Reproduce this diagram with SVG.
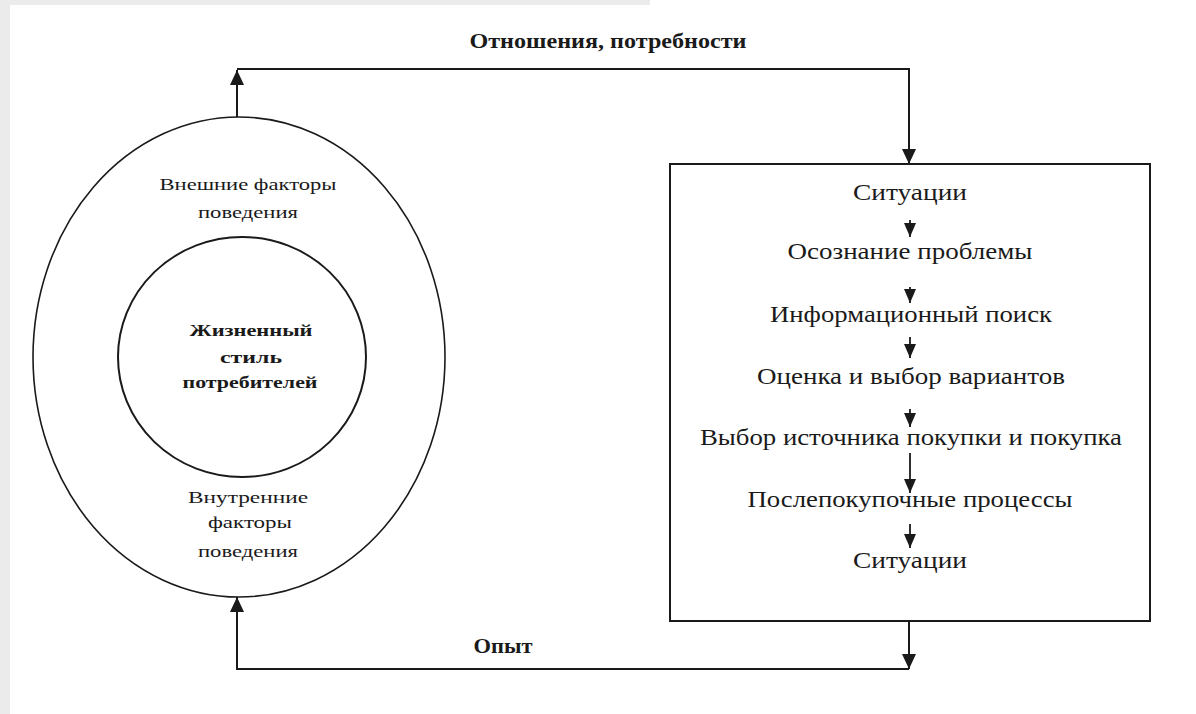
<svg xmlns="http://www.w3.org/2000/svg" width="1196" height="714" viewBox="0 0 1196 714">
<style>
  .t { font-family: "Liberation Serif", "Times New Roman", serif; fill: #1a1a1a; text-anchor: middle; }
  .box { font-size: 23px; }
  .sm { font-size: 17px; }
  .b { font-weight: bold; }
  .lbl { font-size: 20px; }
  .conn { fill: none; stroke: #1a1a1a; stroke-width: 2; }
  .small { fill: none; stroke: #1a1a1a; stroke-width: 1.8; }
  .shape { fill: none; stroke: #1a1a1a; }
</style>
<defs>
  <marker id="ah" markerUnits="userSpaceOnUse" markerWidth="16" markerHeight="16" viewBox="0 0 16 16" refX="15" refY="8" orient="auto">
    <path d="M0,1 L15,8 L0,15 Z" fill="#1a1a1a"/>
  </marker>
  <marker id="as" markerUnits="userSpaceOnUse" markerWidth="15" markerHeight="15" viewBox="0 0 15 15" refX="14" refY="7.5" orient="auto">
    <path d="M0,1.5 L14,7.5 L0,13.5 Z" fill="#1a1a1a"/>
  </marker>
</defs>
<rect x="0" y="0" width="1196" height="714" fill="#ffffff"/>
<rect x="0" y="0" width="10" height="714" fill="#ebebeb"/>
<rect x="0" y="0" width="650" height="5" fill="#ebebeb"/>

<g id="outer-ellipse">
  <ellipse class="shape" cx="239" cy="357" rx="206" ry="240" stroke-width="1.6"/>
  <text class="t sm" x="248" y="190" textLength="177" lengthAdjust="spacingAndGlyphs">Внешние факторы</text>
  <text class="t sm" x="248" y="218" textLength="100" lengthAdjust="spacingAndGlyphs">поведения</text>
  <text class="t sm" x="248" y="503" textLength="120" lengthAdjust="spacingAndGlyphs">Внутренние</text>
  <text class="t sm" x="250" y="528" textLength="84" lengthAdjust="spacingAndGlyphs">факторы</text>
  <text class="t sm" x="248" y="557" textLength="100" lengthAdjust="spacingAndGlyphs">поведения</text>
</g>

<g id="inner-circle">
  <ellipse class="shape" cx="242" cy="357" rx="124" ry="120" stroke-width="2"/>
  <text class="t sm b" x="251" y="336" textLength="123" lengthAdjust="spacingAndGlyphs">Жизненный</text>
  <text class="t sm b" x="251" y="363" textLength="62" lengthAdjust="spacingAndGlyphs">стиль</text>
  <text class="t sm b" x="250" y="388" textLength="135" lengthAdjust="spacingAndGlyphs">потребителей</text>
</g>

<g id="process-box">
  <rect class="shape" x="670" y="164" width="480" height="457" stroke-width="2"/>
  <text class="t box" x="910" y="200" textLength="114" lengthAdjust="spacingAndGlyphs">Ситуации</text>
  <text class="t box" x="910" y="259" textLength="245" lengthAdjust="spacingAndGlyphs">Осознание проблемы</text>
  <text class="t box" x="911" y="322" textLength="282" lengthAdjust="spacingAndGlyphs">Информационный поиск</text>
  <text class="t box" x="911" y="384" textLength="308" lengthAdjust="spacingAndGlyphs">Оценка и выбор вариантов</text>
  <text class="t box" x="911" y="445" textLength="422" lengthAdjust="spacingAndGlyphs">Выбор источника покупки и покупка</text>
  <text class="t box" x="910" y="507" textLength="325" lengthAdjust="spacingAndGlyphs">Послепокупочные процессы</text>
  <text class="t box" x="910" y="568" textLength="114" lengthAdjust="spacingAndGlyphs">Ситуации</text>
  <g id="steps">
    <path class="small" d="M910,220 V237" marker-end="url(#as)"/>
    <path class="small" d="M910,287 V303" marker-end="url(#as)"/>
    <path class="small" d="M910,337 V358" marker-end="url(#as)"/>
    <path class="small" d="M910,409 V427" marker-end="url(#as)"/>
    <path class="small" d="M910,453 V493" marker-end="url(#as)"/>
    <path class="small" d="M910,524 V548" marker-end="url(#as)"/>
  </g>
</g>

<g id="connectors">
  <path class="conn" d="M237,117 V70" marker-end="url(#ah)"/>
  <path class="conn" d="M237,69 H909 V164" marker-end="url(#ah)"/>
  <path class="conn" d="M909,621 V669" marker-end="url(#ah)"/>
  <path class="conn" d="M909,669 H237 V597" marker-end="url(#ah)"/>
  <text class="t lbl b" x="608" y="48" textLength="277" lengthAdjust="spacingAndGlyphs">Отношения, потребности</text>
  <text class="t lbl b" x="503" y="653" textLength="59" lengthAdjust="spacingAndGlyphs">Опыт</text>
</g>
</svg>
